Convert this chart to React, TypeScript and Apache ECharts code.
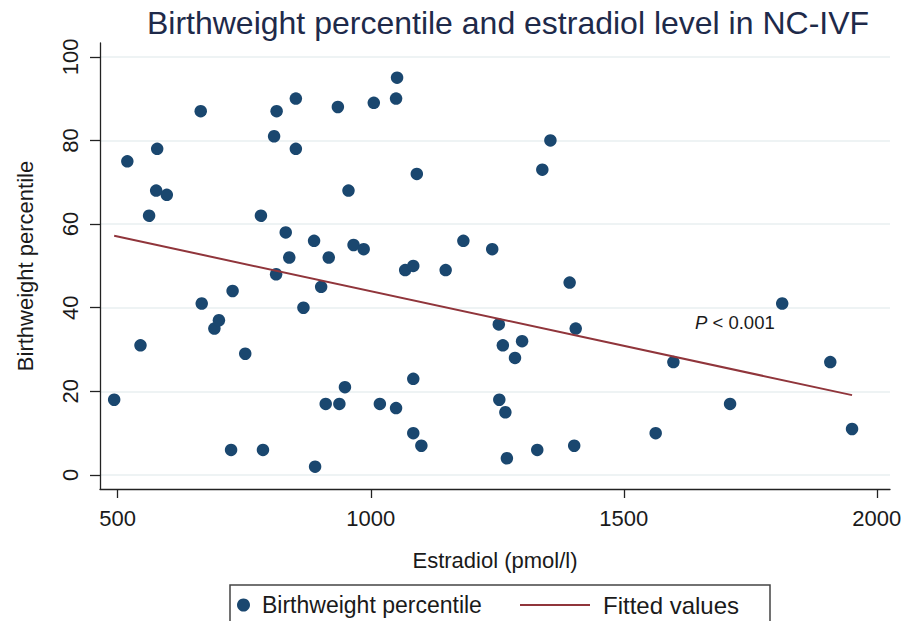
import React, { useEffect, useRef } from "react";
import * as echarts from "echarts";

const estradiol = [
  493, 519, 545, 562, 576, 578, 597, 664, 666, 691, 700, 724, 727, 752, 783, 787, 809, 813, 814, 832,
  839, 852, 852, 867, 888, 890, 902, 911, 917, 935, 938, 949, 956, 966, 986, 1006, 1018, 1050, 1050, 1052,
  1068, 1084, 1084, 1084, 1091, 1100, 1148, 1183, 1240, 1253, 1254, 1261, 1266, 1269, 1285, 1299, 1329, 1339, 1355, 1393,
  1402, 1405, 1563, 1598, 1710, 1813, 1908, 1951,
];
const percentile = [
  18, 75, 31, 62, 68, 78, 67, 87, 41, 35, 37, 6, 44, 29, 62, 6, 81, 48, 87, 58,
  52, 90, 78, 40, 56, 2, 45, 17, 52, 88, 17, 21, 68, 55, 54, 89, 17, 16, 90, 95,
  49, 50, 23, 10, 72, 7, 49, 56, 54, 36, 18, 31, 15, 4, 28, 32, 6, 73, 80, 46,
  7, 35, 10, 27, 17, 41, 27, 11,
];
const fitX = [493, 1951];
const fitY = [57.2, 19.1];
const xTicks = [500, 1000, 1500, 2000];
const yTicks = [0, 20, 40, 60, 80, 100];

const FONT = "'Liberation Sans', Arial, sans-serif";

export default function App() {
  const ref = useRef<HTMLDivElement>(null);
  useEffect(() => {
    if (!ref.current) return;
    const chart = echarts.init(ref.current, null, { renderer: "svg" });
    const scatterData = estradiol.map((x, i) => [x, percentile[i]]);
    const fitData = fitX.map((x, i) => [x, fitY[i]]);
    chart.setOption({
      animation: false,
      backgroundColor: "#ffffff",
      textStyle: { fontFamily: FONT },
      title: {
        text: "Birthweight percentile and estradiol level in NC-IVF",
        left: 503,
        textAlign: "center",
        top: 2,
        textStyle: { fontFamily: FONT, fontSize: 32, fontWeight: "normal", color: "#1e2a4a" },
      },
      grid: { left: 100, top: 43, right: 24, bottom: 132, containLabel: false, outerBoundsMode: "none" },
      xAxis: {
        type: "value",
        min: 465,
        max: 2026,
        name: "Estradiol (pmol/l)",
        nameLocation: "middle",
        nameGap: 60,
        nameTextStyle: { fontFamily: FONT, fontSize: 22, color: "#1a1a1a" },
        axisLine: { show: true, onZero: false, lineStyle: { color: "#222", width: 1.3 } },
        axisTick: { show: true, length: 9, lineStyle: { color: "#222", width: 1.3 }, customValues: xTicks },
        axisLabel: {
          fontFamily: FONT,
          fontSize: 22,
          color: "#1a1a1a",
          margin: 18,
          customValues: xTicks,
          formatter: (v: number) => String(v),
        },
        splitLine: { show: false },
      },
      yAxis: {
        type: "value",
        min: -3.35,
        max: 103.3,
        name: "Birthweight percentile",
        nameLocation: "middle",
        nameGap: 64,
        nameRotate: 90,
        nameTextStyle: { fontFamily: FONT, fontSize: 22, color: "#1a1a1a" },
        axisLine: { show: true, onZero: false, lineStyle: { color: "#222", width: 1.3 } },
        axisTick: { show: true, length: 10, lineStyle: { color: "#222", width: 1.3 }, customValues: yTicks },
        axisLabel: {
          fontFamily: FONT,
          fontSize: 22,
          color: "#1a1a1a",
          margin: 19,
          rotate: 90,
          customValues: yTicks,
          formatter: (v: number) => String(v),
        },
        splitLine: { show: true, lineStyle: { color: "#e8eff1", width: 1.5 } },
      },
      legend: [
        {
          data: [{ name: "Birthweight percentile", icon: "circle" }],
          left: 237,
          top: 592,
          padding: 0,
          itemWidth: 13,
          itemHeight: 13,
          textStyle: { fontFamily: FONT, fontSize: 23, color: "#1a1a1a", lineHeight: 26, padding: [0, 0, 0, 7] },
        },
        {
          data: [{ name: "Fitted values", icon: "rect" }],
          left: 520,
          top: 592,
          padding: 0,
          itemWidth: 70,
          itemHeight: 2,
          textStyle: { fontFamily: FONT, fontSize: 24, color: "#1a1a1a", lineHeight: 26, padding: [0, 0, 0, 8] },
        },
      ],
      graphic: [
        {
          type: "rect",
          shape: { x: 230, y: 585, width: 540, height: 60 },
          style: { fill: "none", stroke: "#444", lineWidth: 1.5 },
          silent: true,
        },
        {
          type: "text",
          left: 695,
          top: 313,
          style: {
            text: "{i|P} < 0.001",
            fontFamily: FONT,
            fontSize: 18.5,
            fill: "#1a1a1a",
            rich: { i: { fontStyle: "italic", fontFamily: FONT, fontSize: 18.5, fill: "#1a1a1a" } },
          },
        },
      ],
      series: [
        {
          name: "Birthweight percentile",
          type: "scatter",
          data: scatterData,
          symbol: "circle",
          symbolSize: 12.5,
          itemStyle: { color: "#1a476f", opacity: 1 },
          z: 3,
        },
        {
          name: "Fitted values",
          type: "line",
          data: fitData,
          symbol: "none",
          lineStyle: { color: "#90353b", width: 2 },
          itemStyle: { color: "#90353b" },
          z: 4,
        },
      ],
    });
    return () => chart.dispose();
  }, []);
  return <div ref={ref} style={{ width: 914, height: 621, position: "absolute", left: 0, top: 0 }} />;
}
